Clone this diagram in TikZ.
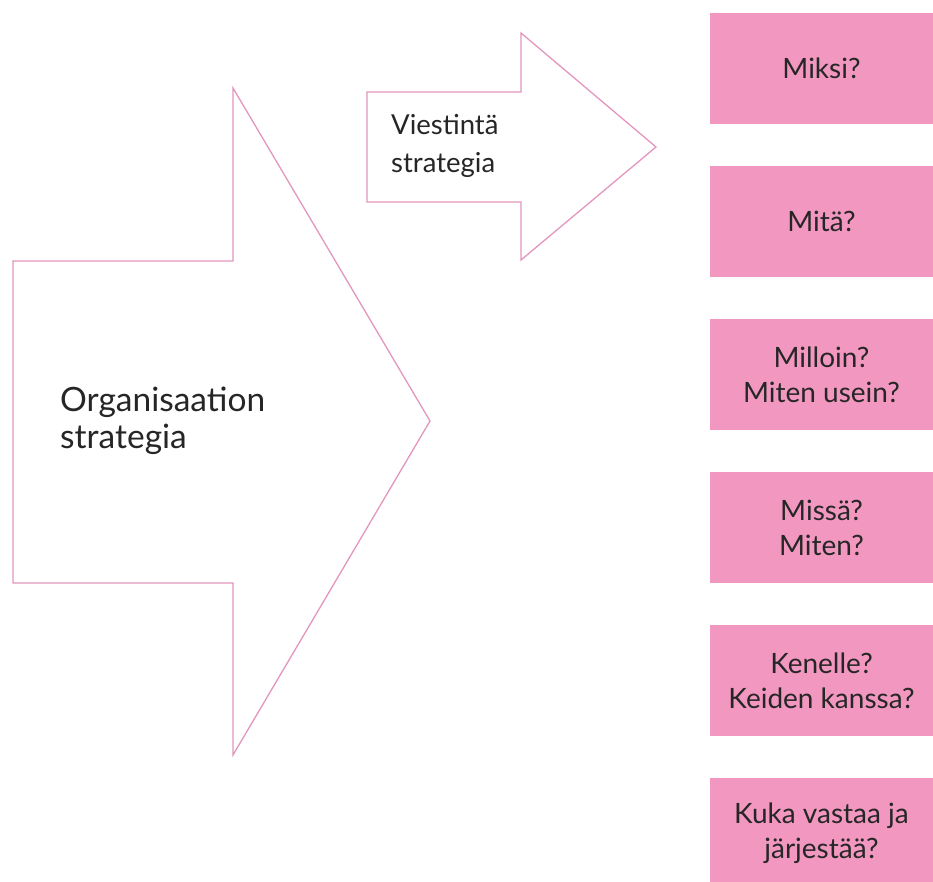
\documentclass[tikz,border=0pt]{standalone}
\usepackage{fontspec}
\setmainfont{Lato}
\definecolor{boxpink}{RGB}{242,152,192}
\definecolor{linepink}{RGB}{228,150,190}
\begin{document}
\begin{tikzpicture}[x=1pt,y=-1pt,
  arrowshape/.style={draw=linepink,line width=1.3pt,fill=white,line join=miter},
  qbox/.style={fill=boxpink,draw=none,minimum width=223pt,minimum height=111pt,inner sep=0pt,
    align=center,font=\fontsize{28}{35}\selectfont,text=black!85},
  atext/.style={align=left,inner sep=0pt,text=black!85}]
\useasboundingbox (0,0) rectangle (933,882);
\clip (0,0) rectangle (933,882);
\fill[white] (0,0) rectangle (933,882);
% big arrow
\draw[arrowshape] (13,261) -- (233,261) -- (233,88) -- (430,421) -- (233,755) -- (233,583) -- (13,583) -- cycle;
\node[atext,anchor=west,font=\fontsize{33.5}{37}\selectfont] (org) at (60,421) {Organisaation\\strategia};
% small arrow
\draw[arrowshape] (367,92) -- (521,92) -- (521,33) -- (656,147) -- (521,260) -- (521,202) -- (367,202) -- cycle;
\node[atext,anchor=west,font=\fontsize{27.5}{38}\selectfont] (vie) at (391,146) {Viestintä\\strategia};
% boxes
\node[qbox] (b1) at (821.5,68.5) {Miksi?};
\node[qbox] (b2) at (821.5,221.5) {Mitä?};
\node[qbox] (b3) at (821.5,374.5) {Milloin?\\Miten usein?};
\node[qbox] (b4) at (821.5,527.5) {Missä?\\Miten?};
\node[qbox] (b5) at (821.5,680.5) {Kenelle?\\Keiden kanssa?};
\node[qbox] (b6) at (821.5,833.5) {Kuka vastaa ja\\järjestää?};
\end{tikzpicture}
\end{document}
